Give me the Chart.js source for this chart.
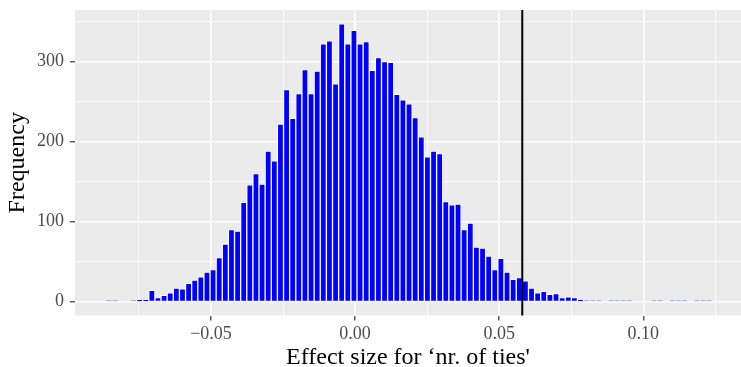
<!DOCTYPE html>
<html>
<head>
<meta charset="utf-8">
<script src="https://cdn.jsdelivr.net/npm/chart.js@4.4.1/dist/chart.umd.min.js"></script>
<style>
  html, body { margin: 0; padding: 0; background: #ffffff; }
  #wrap { width: 741px; height: 367px; position: relative; }
</style>
</head>
<body>
<div id="wrap"><canvas id="histChart"></canvas></div>
<script>
// histogram bins: left edge of the first bin and bin width
const binStart = -0.08647;
const binWidth = 0.002125;

// frequency per bin, left to right
const counts = [
    1, 1, 0, 0, 1, 2, 2, 14, 5, 8, 11, 17, 16, 23, 27, 31, 37, 40, 55,
    72, 90, 88, 124, 146, 160, 147, 188, 176, 222, 265, 229, 260, 290, 260, 288, 322, 326, 272,
    347, 322, 339, 322, 325, 289, 305, 300, 299, 259, 252, 247, 230, 206, 181, 188, 185, 125, 121, 122,
    90, 98, 68, 67, 57, 40, 54, 37, 28, 30, 26, 17, 11, 13, 9, 10, 5, 6, 5, 2,
    1, 1, 1, 0, 1, 1, 1, 1, 0, 0, 0, 1, 1, 0, 1, 1, 1, 0, 1, 1, 1
];

// observed effect size (vertical line)
const observedEffect = 0.058;

// axis ticks (major ones get labels, the others are minor grid lines)
const xTicks = [-0.075, -0.05, -0.025, 0, 0.025, 0.05, 0.075, 0.10, 0.125];
const xMajor = [-0.05, 0, 0.05, 0.10];
const yTicks = [0, 50, 100, 150, 200, 250, 300, 350];
const yMajor = [0, 100, 200, 300];

const xTitle = 'Effect size for \u2018nr. of ties\'';
const yTitle = 'Frequency';

const serif = "'Liberation Serif', 'DejaVu Serif', serif";

function isMajor(list, v) {
    return list.some(m => Math.abs(m - v) < 1e-9);
}

const histData = counts.map((c, i) => ({ x: binStart + (i + 0.5) * binWidth, y: c }));

const panelPlugin = {
    id: 'panel',
    beforeDraw(chart) {
        const { ctx, chartArea: a } = chart;
        ctx.save();
        ctx.fillStyle = '#EBEBEB';
        ctx.fillRect(a.left, a.top, a.right - a.left, a.bottom - a.top);
        ctx.restore();
    },
    afterDatasetsDraw(chart) {
        const { ctx, chartArea: a } = chart;
        const px = chart.scales.x.getPixelForValue(observedEffect);
        ctx.save();
        ctx.strokeStyle = '#000000';
        ctx.lineWidth = 2;
        ctx.beginPath();
        ctx.moveTo(px, a.top);
        ctx.lineTo(px, a.bottom);
        ctx.stroke();
        ctx.restore();
    }
};

const ctx = document.getElementById('histChart').getContext('2d');
const histChart = new Chart(ctx, {
    type: 'bar',
    data: {
        datasets: [{
            data: histData,
            backgroundColor: '#0000FF',
            borderColor: '#FFFFFF',
            borderWidth: 1,
            borderSkipped: 'start',
            barPercentage: 1,
            categoryPercentage: 1
        }]
    },
    options: {
        responsive: true,
        maintainAspectRatio: false,
        animation: false,
        layout: { padding: { top: 10, right: 0, left: 0, bottom: 0 } },
        plugins: {
            legend: { display: false },
            tooltip: { enabled: false }
        },
        scales: {
            x: {
                type: 'linear',
                offset: false,
                min: -0.0972,
                max: 0.1339,
                afterBuildTicks: s => { s.ticks = xTicks.map(v => ({ value: v })); },
                afterFit: s => {
                    s.height = 51.5;
                    s.paddingLeft = 0;
                    s.paddingRight = 0;
                },
                grid: {
                    offset: false,
                    color: '#FFFFFF',
                    lineWidth: c => isMajor(xMajor, c.tick.value) ? 1.6 : 0.8,
                    drawTicks: true,
                    tickLength: 5,
                    tickColor: c => isMajor(xMajor, c.tick.value) ? '#333333' : 'rgba(0,0,0,0)',
                    tickWidth: 1.2
                },
                border: { display: false },
                ticks: {
                    autoSkip: false,
                    maxRotation: 0,
                    padding: 3,
                    color: '#4D4D4D',
                    font: { family: serif, size: 18 },
                    callback: v => isMajor(xMajor, v) ? v.toFixed(2).replace('-', '\u2212') : ''
                },
                title: {
                    display: true,
                    text: xTitle,
                    color: '#000000',
                    font: { family: serif, size: 24, lineHeight: 1 },
                    padding: { top: 0, bottom: -2.5 }
                }
            },
            y: {
                min: -17.35,
                max: 364.4,
                afterBuildTicks: s => { s.ticks = yTicks.map(v => ({ value: v })); },
                afterFit: s => {
                    s.width = 75;
                    s.paddingTop = 0;
                    s.paddingBottom = 0;
                },
                grid: {
                    color: '#FFFFFF',
                    lineWidth: c => isMajor(yMajor, c.tick.value) ? 1.6 : 0.8,
                    drawTicks: true,
                    tickLength: 5,
                    tickColor: c => isMajor(yMajor, c.tick.value) ? '#333333' : 'rgba(0,0,0,0)',
                    tickWidth: 1.2
                },
                border: { display: false },
                ticks: {
                    autoSkip: false,
                    padding: 6,
                    color: '#4D4D4D',
                    font: { family: serif, size: 18 },
                    callback: v => isMajor(yMajor, v) ? String(v) : ''
                },
                title: {
                    display: true,
                    text: yTitle,
                    color: '#000000',
                    font: { family: serif, size: 24, lineHeight: 1 },
                    padding: { top: 6, bottom: 0 }
                }
            }
        }
    },
    plugins: [panelPlugin]
});
</script>
</body>
</html>
